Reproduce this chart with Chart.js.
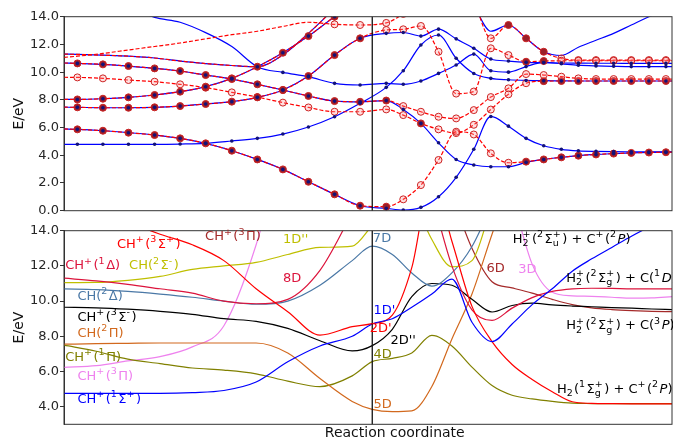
<!DOCTYPE html>
<html lang="en">
<head>
<meta charset="UTF-8">
<title>Potential energy curves along the reaction coordinate</title>
<script src="https://cdn.jsdelivr.net/npm/chart.js"></script>
<style>
  body { margin: 0; background: #fff; }
  #wrap { position: relative; width: 673px; height: 438px; }
  canvas { position: absolute; left: 0; }
  #topChart { top: 0; }
  #bottomChart { top: 212px; }
</style>
</head>
<body>
<div id="wrap">
  <canvas id="topChart" width="673" height="222"></canvas>
  <canvas id="bottomChart" width="673" height="226"></canvas>
</div>
<script>
// ---- reaction coordinate grids ----
const xsTop = [0, 2.2, 6.4, 10.6, 14.9, 19.1, 23.3, 27.6, 31.8, 36.0, 40.2, 44.5, 48.7,
  53.0, 55.8, 58.7, 61.6, 64.5, 67.4, 70.2, 73.1, 76.0, 78.9, 81.8, 84.6, 87.5, 90.4, 93.3, 96.2, 99.0, 100];
const xsBottom = [0, 5.3, 10.5, 15.8, 21.1, 26.3, 31.6, 36.8, 42.1, 47.4, 50.7, 54, 57.2,
  60.5, 63.8, 67.1, 70.4, 73.7, 77, 80.3, 83.6, 86.8, 90.1, 93.4, 96.7, 100];
const splitX = 50.7;
const yTicksTop = [0, 2, 4, 6, 8, 10, 12, 14];
const yTicksBottom = [4, 6, 8, 10, 12, 14];

// ---- top panel: blue (solid) curves ----
const bLow = [5.9, 5.87, 5.77, 5.63, 5.46, 5.22, 4.86, 4.33, 3.70, 2.98, 2.09, 1.18, 0.36,
  0.17, 0.05, 0.24, 1.01, 2.41, 4.43, 6.8, 6.1, 5.22, 4.69, 4.43, 4.32, 4.28, 4.26, 4.25, 4.24, 4.24, 4.24];
const bFlat = [4.79, 4.79, 4.79, 4.79, 4.79, 4.81, 4.86, 5.03, 5.22, 5.53, 6.04, 6.78, 7.75,
  8.9, 10.1, 11.96, 12.68, 11.0, 9.9, 9.55, 9.45, 9.4, 9.38, 9.37, 9.36, 9.36, 9.36, 9.36, 9.36, 9.36, 9.36];
const bTop = [null, null, null, 14.7, 13.95, 13.6, 12.85, 11.85, 10.39, 9.98, 9.67, 9.19, 9.07,
  9.19, 9.12, 9.36, 9.91, 10.51, 11.3, 10.1, 10.0, 10.4, 10.7, 10.6, 10.5, 10.45, 10.42, 10.4, 10.4, 10.4, 10.4];
const bMid = [7.47, 7.46, 7.43, 7.43, 7.46, 7.55, 7.7, 7.87, 8.18, 8.71, 9.72, 11.23, 12.44,
  12.8, 12.86, 12.6, 13.1, 12.4, 11.72, 10.95, 10.8, 10.71, 10.68, 10.66, 10.65, 10.64, 10.64, 10.63, 10.63, 10.63, 10.63];
const bA = [10.66, 10.63, 10.56, 10.44, 10.27, 10.08, 9.79, 9.5, 9.12, 8.71, 8.28, 7.91, 7.86,
  7.95, 7.31, 6.3, 4.9, 3.7, 3.3, 3.17, 3.17, 3.49, 3.70, 3.85, 3.97, 4.06, 4.12, 4.17, 4.2, 4.22, 4.22];
const bC8 = [8.03, 8.03, 8.08, 8.18, 8.35, 8.59, 8.95, 9.55, 10.39, 11.4, 12.6, 14.0, 15.2,
  null, null, null, null, null, null, null, null, null, null, null, null, null, null, null, null, null, null];
const bL11 = [11.3, 11.28, 11.22, 11.15, 11.02, 10.8, 10.62, 10.48, 10.39, 11.25, 12.8, 14.6,
  null, null, null, null, null, null, null, null, null, null, null, null, null, null, null, null, null, null, null];
const bR = [null, null, null, null, null, null, null, null, null, null, null, null, null, null, null, null, null, null,
  14.8, 12.95, 13.4, 12.44, 11.47, 11.2, 11.8, 12.3, 12.8, 13.4, 14.0, 14.5, 15.0];

// ---- top panel: red (dashed) curves ----
const rLow = [5.9, 5.87, 5.77, 5.63, 5.46, 5.22, 4.86, 4.33, 3.70, 2.98, 2.09, 1.18, 0.36,
  0.29, 0.82, 1.85, 3.66, 5.7, 5.5, 4.14, 3.46, 3.54, 3.70, 3.85, 3.97, 4.06, 4.12, 4.17, 4.20, 4.22, 4.22];
const rA = [10.66, 10.63, 10.56, 10.44, 10.27, 10.08, 9.79, 9.5, 9.12, 8.71, 8.28, 7.91, 7.86,
  7.95, 7.55, 7.14, 6.78, 6.66, 7.26, 8.2, 8.83, 9.86, 9.79, 9.67, 9.55, 9.5, 9.5, 9.5, 9.5, 9.5, 9.5];
const rMid = [7.47, 7.46, 7.43, 7.43, 7.46, 7.55, 7.7, 7.87, 8.18, 8.71, 9.72, 11.23, 12.44,
  13.04, 13.09, 13.33, 11.47, 8.45, 8.6, 11.72, 11.23, 10.75, 10.8, 10.82, 10.82, 10.82, 10.82, 10.82, 10.82, 10.82, 10.82];
const rC8 = bC8.slice();
const rL11 = bL11.slice();
const r96 = [9.63, 9.62, 9.55, 9.43, 9.31, 9.12, 8.88, 8.54, 8.2, 7.8, 7.45, 7.14, 7.14,
  7.31, 6.9, 6.3, 5.87, 5.6, 6.2, 7.3, 8.4, 9.2, 9.35, 9.36, 9.36, 9.36, 9.36, 9.36, 9.36, 9.36, 9.36];
const rTop = [11.07, 11.15, 11.35, 11.6, 11.85, 12.1, 12.4, 12.7, 12.95, 13.3, 13.6, 13.45, 13.4, 13.55, 14.2, 15.0,
  null, null, null, null, null, null, null, null, null, null, null, null, null, null, null];
const rR = [null, null, null, null, null, null, null, null, null, null, null, null, null, null, null, null, null, null,
  15.2, 12.44, 13.4, 12.44, 11.47, 10.99, 10.87, 10.87, 10.87, 10.87, 10.87, 10.87, 10.87];

// ---- bottom panel: diabatic curves ----
const chSigma1 = [4.76, 4.76, 4.76, 4.76, 4.8, 4.92, 5.4, 6.55, 7.45, 8.0, 8.7, 9.0, 9.65,
  10.4, 11.25, 8.8, 7.7, 8.7, 9.8, 10.7, 11.7, 12.4, 13.05, 13.7, 14.3, 14.9];
const chSigma3 = [null, null, 14.5, 13.8, 13.2, 12.3, 10.7, 9.4, 8.07, 8.55, 8.72, 9.2, 11.9,
  17.0, 13.4, 9.7, 7.7, 6.4, 5.55, 4.85, 4.28, 4.19, 4.17, 4.16, 4.16, 4.16];
const chDelta1 = [11.3, 11.15, 10.95, 10.7, 10.45, 10.0, 9.85, 10.1, 11.75, 15.0, null, null, null,
  16.0, 12.0, 9.5, 8.9, 9.6, 10.2, 10.55, 10.7, 10.73, 10.72, 10.7, 10.7, 10.7];
const chSigmaM = [11.05, 11.06, 11.18, 11.4, 11.8, 12.0, 12.2, 12.65, 13.05, 13.12, 14.3, null, 16.0,
  13.5, 11.95, 12.3, 15.5, null, null, null, null, null, null, null, null, null];
const chDelta2 = [10.69, 10.65, 10.55, 10.4, 10.22, 10.0, 9.82, 10.0, 10.9, 12.3, 13.12, 12.65, 11.6,
  10.85, 11.6, 13.1, 15.5, null, null, null, null, null, null, null, null, null];
const chSigma3m = [9.65, 9.62, 9.54, 9.42, 9.25, 9.0, 8.85, 8.45, 7.75, 7.17, 7.47, 8.4, 10.25,
  11.0, 10.9, 10.1, 9.38, 9.75, 9.88, 9.78, 9.72, 9.68, 9.63, 9.6, 9.55, 9.52];
const chPi2 = [7.55, 7.58, 7.6, 7.62, 7.62, 7.62, 7.62, 7.05, 5.6, 4.3, 3.85, 3.72, 3.76,
  5.15, 7.85, 10.4, 13.8, 17.0, null, null, null, null, null, null, null, null];
const chPi1 = [7.5, 7.15, 6.7, 6.45, 6.2, 6.08, 5.87, 5.45, 5.14, 5.75, 6.56, 6.75, 7.05,
  8.05, 7.45, 6.25, 5.2, 4.65, 4.44, 4.3, 4.2, 4.18, 4.17, 4.17, 4.17, 4.17];
const chPi3 = [6.24, 6.33, 6.6, 6.85, 7.4, 8.6, 13.2, 20, null, null, null, null, null,
  null, null, null, null, 16.0, 12.1, 10.5, 10.3, 10.27, 10.22, 10.17, 10.18, 10.25];
const ch6D = [null, null, null, null, null, null, null, null, null, null, null, null, null,
  null, 16.0, 13.0, 11.1, 10.75, 10.45, 10.1, 9.8, 9.62, 9.52, 9.46, 9.42, 9.4];

// state labels: text with ^{sup} _{sub} *italic*
const stateLabels = [
  { t: 'CH^{+}(^{3}Σ^{+})', c: '#ff0000', x: 8.7, y: 13.19 },
  { t: 'CH^{+}(^{3}Π)', c: '#a52a2a', x: 23.2, y: 13.64 },
  { t: "1D''", c: '#bfbf00', x: 36.0, y: 13.47 },
  { t: '7D', c: '#4a78a6', x: 50.8, y: 13.53 },
  { t: 'CH^{+}(^{1}Δ)', c: '#dc143c', x: 0.2, y: 11.99 },
  { t: 'CH(^{2}Σ^{-})', c: '#bfbf00', x: 10.7, y: 11.99 },
  { t: '8D', c: '#dc143c', x: 36.0, y: 11.3 },
  { t: '6D', c: '#a52a2a', x: 69.5, y: 11.86 },
  { t: '3D', c: '#ee82ee', x: 74.7, y: 11.77 },
  { t: 'H_{2}^{+}(^{2}Σ_{u}^{+}) + C^{+}(^{2}*P*)', c: '#000', x: 73.8, y: 13.47 },
  { t: 'H_{2}^{+}(^{2}Σ_{g}^{+}) + C(^{1}*D*)', c: '#000', x: 82.6, y: 11.3 },
  { t: 'CH(^{2}Δ)', c: '#4a78a6', x: 2.2, y: 10.25 },
  { t: "1D'", c: '#0000ff', x: 50.9, y: 9.44 },
  { t: 'CH^{+}(^{3}Σ^{-})', c: '#000', x: 2.2, y: 9.08 },
  { t: "2D'", c: '#ff0000', x: 50.3, y: 8.45 },
  { t: "2D''", c: '#000', x: 53.7, y: 7.73 },
  { t: 'CH(^{2}Π)', c: '#d2691e', x: 2.2, y: 8.17 },
  { t: 'H_{2}^{+}(^{2}Σ_{g}^{+}) + C(^{3}*P*)', c: '#000', x: 82.6, y: 8.58 },
  { t: 'CH^{+}(^{1}Π)', c: '#808000', x: 0.2, y: 6.81 },
  { t: '4D', c: '#808000', x: 50.9, y: 6.98 },
  { t: 'CH^{+}(^{3}Π)', c: '#ee82ee', x: 2.2, y: 5.7 },
  { t: 'CH^{+}(^{1}Σ^{+})', c: '#0000ff', x: 2.2, y: 4.38 },
  { t: 'H_{2}(^{1}Σ_{g}^{+}) + C^{+}(^{2}*P*)', c: '#000', x: 81.1, y: 4.99 },
  { t: '5D', c: '#d2691e', x: 50.9, y: 4.1 }
];

const FONT = '"DejaVu Sans", sans-serif';
const toPts = (xs, ys) => xs.map((x, i) => ({ x: x, y: ys[i] }));

function drawRich(ctx, str, x, y, color) {
  const parts = str.match(/\^\{[^}]*\}|_\{[^}]*\}|\*[^*]*\*|[^^_*]+/g);
  let cx = x, subStart = null, subW = 0;
  ctx.fillStyle = color;
  ctx.textBaseline = 'middle';
  ctx.textAlign = 'left';
  for (const p of parts) {
    if (p[0] === '^' || p[0] === '_') {
      const t = p.slice(2, -1);
      ctx.font = '9.5px ' + FONT;
      const w = ctx.measureText(t).width;
      if (p[0] === '_') {
        ctx.fillText(t, cx, y + 4);
        subStart = cx; subW = w;
        cx += w + 1;
      } else if (subStart !== null) {
        ctx.fillText(t, subStart, y - 5);
        cx = subStart + Math.max(w, subW) + 1.5;
        subStart = null;
      } else {
        ctx.fillText(t, cx, y - 5);
        cx += w + 1.5;
      }
    } else {
      const italic = p[0] === '*';
      const t = italic ? p.slice(1, -1) : p;
      ctx.font = (italic ? 'italic ' : '') + '13px ' + FONT;
      ctx.fillText(t, cx, y);
      cx += ctx.measureText(t).width;
      subStart = null;
    }
  }
}

function yAxis(min, max, ticks) {
  return {
    type: 'linear', min: min, max: max,
    afterBuildTicks: s => { s.ticks = ticks.map(v => ({ value: v })); },
    afterFit: s => { s.width = 64; },
    ticks: { font: { family: FONT, size: 13 }, color: '#262626', padding: 1, callback: v => Number(v).toFixed(1) },
    grid: { drawOnChartArea: false, tickLength: 4, color: '#333' },
    border: { color: '#333' },
    title: { display: true, text: 'E/eV', font: { family: FONT, size: 14 }, color: '#111', padding: { top: 11, bottom: 0 } }
  };
}

const framePlugin = {
  id: 'frame',
  afterDatasetsDraw(chart) {
    const { ctx, chartArea: a } = chart;
    const vx = chart.scales.x.getPixelForValue(splitX);
    ctx.save();
    ctx.strokeStyle = '#111';
    ctx.lineWidth = 1.3;
    ctx.beginPath();
    ctx.moveTo(vx, a.top);
    ctx.lineTo(vx, a.bottom);
    ctx.stroke();
    ctx.strokeStyle = '#333';
    ctx.lineWidth = 1;
    ctx.strokeRect(a.left, a.top, a.right - a.left, a.bottom - a.top);
    ctx.restore();
  }
};

// ---- top chart ----
const blueCurves = [bLow, bFlat, bTop, bMid, bA, bC8, bL11, bR];
const blueMarkFrom = [1, 1, 9, 1, 1, 1, 99, 99];
const redCurves = [rLow, rA, rMid, rC8, rL11, r96, rTop, rR];
const redMarkFrom = [1, 1, 1, 1, 99, 1, 11, 1];

const inRange = (i, from) => i >= from && i < xsTop.length - 1;
const sharedWithBlue = (i, v) => blueCurves.some(b => b[i] != null && Math.abs(b[i] - v) < 0.13);

const topSets = [];
blueCurves.forEach((ys, n) => {
  topSets.push({
    data: toPts(xsTop, ys), borderColor: '#0000ff', borderWidth: 1.2, pointRadius: 0,
    cubicInterpolationMode: 'monotone', order: 3
  });
  if (blueMarkFrom[n] < 99) {
    topSets.push({
      data: toPts(xsTop, ys), showLine: false, order: 1,
      pointRadius: c => inRange(c.dataIndex, blueMarkFrom[n]) ? 1.8 : 0,
      pointBackgroundColor: '#12127a', pointBorderWidth: 0
    });
  }
});
redCurves.forEach((ys, n) => {
  topSets.push({
    data: toPts(xsTop, ys), borderColor: '#ff0000', borderWidth: 1.2, borderDash: [4, 2],
    cubicInterpolationMode: 'monotone', order: 2,
    pointRadius: c => inRange(c.dataIndex, redMarkFrom[n]) ? 3.5 : 0,
    pointBorderColor: '#cc2222', pointBorderWidth: 1,
    pointBackgroundColor: c => sharedWithBlue(c.dataIndex, ys[c.dataIndex]) ? '#9a1f2a' : 'rgba(255,150,150,0.3)'
  });
});

new Chart(document.getElementById('topChart'), {
  type: 'line',
  data: { datasets: topSets },
  options: {
    responsive: false, animation: false, events: [],
    layout: { padding: { top: 16.7, right: 1, bottom: 11.3, left: 0 } },
    plugins: { legend: { display: false }, tooltip: { enabled: false } },
    scales: {
      x: { type: 'linear', min: 0, max: 100, display: false },
      y: yAxis(0, 14, yTicksTop)
    }
  },
  plugins: [framePlugin]
});

// ---- bottom chart ----
const bottomCurves = [chSigma1, chSigma3, chDelta1, chSigmaM, chDelta2, chSigma3m, chPi2, chPi1, chPi3, ch6D];
const bottomColors = ['#0000ff', '#ff0000', '#dc143c', '#bfbf00', '#4a78a6', '#000000', '#d2691e', '#808000', '#ee82ee', '#a52a2a'];

const labelPlugin = {
  id: 'stateLabels',
  afterDatasetsDraw(chart) {
    const { ctx, chartArea: a, scales: { x, y } } = chart;
    ctx.save();
    stateLabels.forEach(l => drawRich(ctx, l.t, x.getPixelForValue(l.x), y.getPixelForValue(l.y), l.c));
    ctx.font = '14px ' + FONT;
    ctx.fillStyle = '#111';
    ctx.textAlign = 'center';
    ctx.textBaseline = 'alphabetic';
    ctx.fillText('Reaction coordinate', x.getPixelForValue(54.4), a.bottom + 12.4);
    ctx.restore();
  }
};

new Chart(document.getElementById('bottomChart'), {
  type: 'line',
  data: {
    datasets: bottomCurves.map((ys, n) => ({
      data: toPts(xsBottom, ys), borderColor: bottomColors[n], borderWidth: 1.2,
      pointRadius: 0, cubicInterpolationMode: 'monotone'
    }))
  },
  options: {
    responsive: false, animation: false, events: [],
    layout: { padding: { top: 18.7, right: 1, bottom: 13.7, left: 0 } },
    plugins: { legend: { display: false }, tooltip: { enabled: false } },
    scales: {
      x: { type: 'linear', min: 0, max: 100, display: false },
      y: yAxis(3, 14, yTicksBottom)
    }
  },
  plugins: [framePlugin, labelPlugin]
});
</script>
</body>
</html>
